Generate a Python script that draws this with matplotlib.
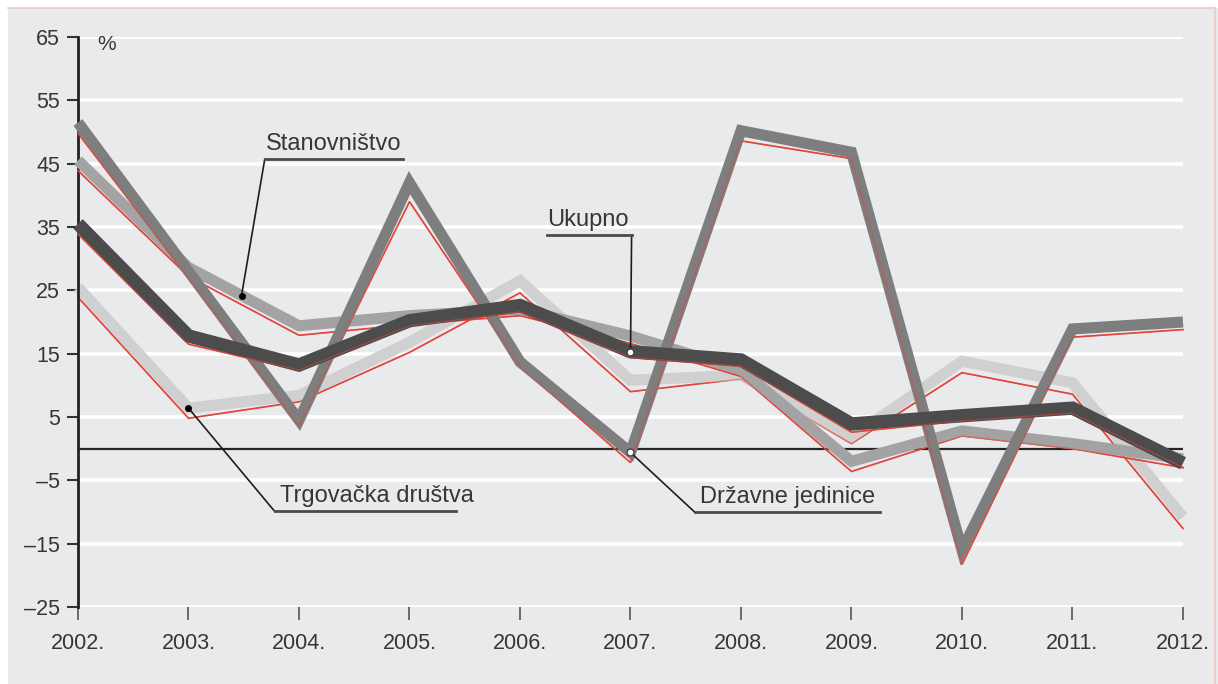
import matplotlib.pyplot as plt
from matplotlib.patches import Rectangle
from matplotlib.lines import Line2D

plt.rcParams['font.family'] = ['Liberation Sans', 'DejaVu Sans']

years = list(range(2002, 2013))
year_labels = [f"{y}." for y in years]
y_ticks = [-25, -15, -5, 5, 15, 25, 35, 45, 55, 65]

# gray = current series, red = thin companion line
ukupno = [35.5, 17.8, 13.2, 20.2, 22.6, 15.3, 14.0, 3.9, 5.2, 6.4, -2.3]
ukupno_red = [33.9, 16.5, 12.4, 19.4, 21.6, 14.4, 13.0, 2.6, 4.4, 5.6, -3.0]
drzavne = [51.5, 28.0, 4.5, 42.0, 13.7, -0.6, 50.2, 46.8, -16.0, 18.9, 20.0]
drzavne_red = [49.8, 27.0, 3.6, 39.0, 13.0, -2.2, 48.6, 45.8, -18.3, 17.6, 18.8]
stanovnistvo = [45.5, 28.6, 19.4, 21.0, 22.0, 17.8, 12.4, -2.0, 2.8, 0.8, -1.6]
stanovnistvo_red = [43.9, 27.2, 17.9, 19.6, 21.0, 16.6, 11.4, -3.6, 2.0, 0.0, -3.0]
trgovacka = [25.5, 6.4, 8.4, 16.8, 26.5, 10.8, 11.6, 1.8, 13.8, 10.4, -10.8]
trgovacka_red = [23.9, 4.8, 7.4, 15.2, 24.6, 9.0, 11.0, 0.8, 12.0, 8.6, -12.6]

bg = '#e9eaeb'
red = '#e2453c'
txt = '#363636'

fig = plt.figure(figsize=(12.18, 6.84), dpi=100, facecolor=bg)
# white margin strips + pinkish frame like the scanned page
fig.patches.append(Rectangle((0, 1 - 8/684), 1, 8/684, transform=fig.transFigure,
                             facecolor='white', edgecolor='none', zorder=0))
fig.patches.append(Rectangle((0, 0), 8/1218, 1, transform=fig.transFigure,
                             facecolor='white', edgecolor='none', zorder=0))
fig.lines.append(Line2D([8/1218, 1215/1218], [1 - 8/684, 1 - 8/684], transform=fig.transFigure,
                        color='#efc6c6', lw=1.2))
fig.lines.append(Line2D([1215/1218, 1215/1218], [0, 1 - 8/684], transform=fig.transFigure,
                        color='#efc6c6', lw=1.2))

ax = fig.add_axes([78/1218, 1 - 607/684, (1183 - 78)/1218, 570/684])
ax.set_facecolor('none')
ax.set_xlim(2002, 2012)
ax.set_ylim(-25, 65)

for v in y_ticks:
    ax.axhline(v, color='white', lw=2.6, zorder=0)
ax.axhline(0, color='#262626', lw=1.6, zorder=1)

series = [
    (trgovacka, trgovacka_red, '#d0d0d0', 8.0),
    (stanovnistvo, stanovnistvo_red, '#a3a3a3', 8.0),
    (drzavne, drzavne_red, '#7e7e7e', 8.0),
    (ukupno, ukupno_red, '#4c4c4c', 9.6),
]
z = 2
for grey_vals, red_vals, col, lw in series:
    ax.plot(years, red_vals, color=red, lw=1.2, zorder=z, clip_on=False,
            solid_joinstyle='miter')
    ax.plot(years, grey_vals, color=col, lw=lw, zorder=z + 0.1, clip_on=False,
            solid_joinstyle='miter', solid_capstyle='butt')
    ax.plot(years, red_vals, color=red, lw=0.9, zorder=z + 0.2, clip_on=False, alpha=0.55)
    z += 1

ax.spines[['top', 'right', 'bottom']].set_visible(False)
ax.spines['left'].set_color('#222222')
ax.spines['left'].set_linewidth(2)
ax.set_yticks(y_ticks)
ax.set_yticklabels([str(v).replace('-', '\u2013') for v in y_ticks])
ax.set_xticks(years)
ax.set_xticklabels(year_labels)
ax.tick_params(axis='y', length=8, width=1.5, color='#333333', labelsize=15.5,
               labelcolor=txt, pad=5)
ax.tick_params(axis='x', length=9, width=1.2, color='#555555', labelsize=15.5,
               labelcolor=txt, pad=10)

ax.text(2002.17, 63.8, '%', fontsize=15, color=txt, va='center', ha='left')

# annotations
lk = dict(color='#1e1e1e', lw=1.2, zorder=10, clip_on=False)
uk = dict(color='#4a4a4a', lw=2.0, zorder=10, clip_on=False)
tk = dict(fontsize=17, color=txt, zorder=10)

# Stanovnistvo
sx = 2003.48
sy = stanovnistvo[1] + (stanovnistvo[2] - stanovnistvo[1]) * (sx - 2003)
ax.plot([sx, 2003.69], [sy, 45.7], **lk)
ax.plot([2003.69, 2004.94], [45.7, 45.7], **uk)
ax.plot([sx], [sy], 'o', color='black', ms=4, zorder=11)
ax.text(2003.70, 46.4, 'Stanovništvo', va='bottom', ha='left', **tk)

# Ukupno
ax.plot([2007, 2007.01], [ukupno[5], 33.7], **lk)
ax.plot([2007.01, 2006.24], [33.7, 33.7], **uk)
ax.plot([2007], [ukupno[5]], 'o', mfc='white', mec='#444444', ms=5, zorder=11)
ax.text(2006.25, 34.4, 'Ukupno', va='bottom', ha='left', **tk)

# Trgovacka drustva
ax.plot([2003, 2003.78], [trgovacka[1], -9.9], **lk)
ax.plot([2003.78, 2005.42], [-9.9, -9.9], **uk)
ax.plot([2003], [trgovacka[1]], 'o', color='black', ms=4, zorder=11)
ax.text(2003.83, -9.2, 'Trgovačka društva', va='bottom', ha='left', **tk)

# Drzavne jedinice
ax.plot([2007, 2007.58], [drzavne[5], -10.0], **lk)
ax.plot([2007.58, 2009.26], [-10.0, -10.0], **uk)
ax.plot([2007], [drzavne[5]], 'o', mfc='white', mec='#444444', ms=5, zorder=11)
ax.text(2007.63, -9.3, 'Državne jedinice', va='bottom', ha='left', **tk)

fig.savefig('out.png', dpi=100, facecolor=fig.get_facecolor())
